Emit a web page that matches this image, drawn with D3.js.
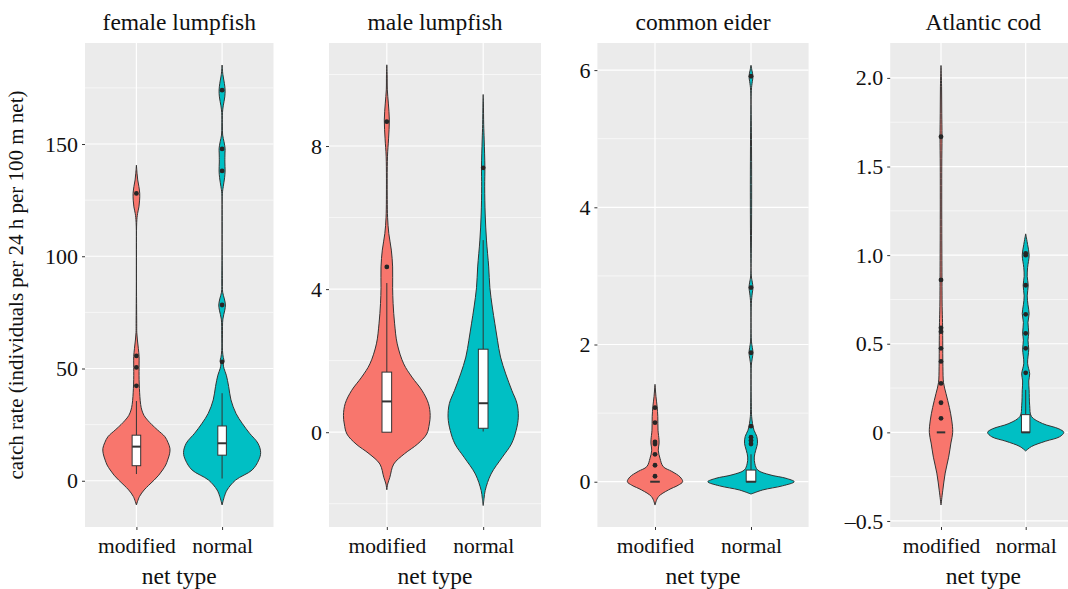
<!DOCTYPE html>
<html><head><meta charset="utf-8">
<script src="https://cdn.jsdelivr.net/npm/d3@7"></script>
<style>
body{margin:0;background:#fff;}
text{font-family:"Liberation Serif","Times New Roman",serif;}
</style></head>
<body><svg id="chart" width="1068" height="589"></svg>
<script>
// ---------------- DATA ----------------
const categories = ["modified", "normal"];
const panelTitles = ["female lumpfish", "male lumpfish", "common eider", "Atlantic cod"];
const xAxisTitle = "net type";
const yAxisTitle = "catch rate (individuals per 24 h per 100 m net)";

// y ticks per panel
const femaleTicks = [0, 50, 100, 150];
const femaleTickLabels = ["0", "50", "100", "150"];
const femaleMinor = [25, 75, 125, 175];
const maleTicks = [0, 4, 8];
const maleTickLabels = ["0", "4", "8"];
const maleMinor = [-2, 2, 6, 10];
const eiderTicks = [0, 2, 4, 6];
const eiderTickLabels = ["0", "2", "4", "6"];
const eiderMinor = [1, 3, 5];
const codTicks = [-0.5, 0, 0.5, 1, 1.5, 2];
const codTickLabels = ["\u20130.5", "0", "0.5", "1.0", "1.5", "2.0"];
const codMinor = [-0.25, 0.25, 0.75, 1.25, 1.75];

// y domains (value range incl. expansion)
const femaleDomain = [-20.6, 195];
const maleDomain = [-2.65, 10.88];
const eiderDomain = [-0.66, 6.395];
const codDomain = [-0.534, 2.197];

// violin outlines: [catch rate, relative density width (0-100)]
const femaleModViolin = [[-10.8,0],[-7,8],[-4.1,20],[-2,32],[0.3,46],[2.5,58],[4.8,68],[7,76],[9.2,81],[12,86],[14.4,87],[17,82],[19.6,74],[22.6,55],[25,40],[27,29],[29,20],[31.5,14],[34,11],[37.5,9],[45,7],[52,7],[55.3,7],[59,5],[62.7,2.6],[66,1],[70,0.8],[115,0.8],[119,3],[122,6.5],[125,8.3],[128,8.6],[131,6.5],[134,3.4],[137,1.6],[140.6,0]];
const femaleNorViolin = [[-10.8,0],[-7,6],[-4.1,13],[0.3,35],[4.8,78],[9.2,95],[12.6,100],[16.7,93],[21.2,71],[25.6,52],[30,36],[36,23],[42,17],[47,11],[50,5],[52,3],[53.5,5],[55,3],[58,1],[65,1],[72,2],[76,7],[78.3,8.6],[81,6],[84,1.5],[90,0.8],[128,0.8],[131,3],[135,6.5],[138,7.8],[142,7.2],[146,7.5],[148,7.8],[151,5],[154,1.5],[158,0.8],[164,1],[167,3],[171,7],[174,7.8],[177,6],[181,2],[185.2,0]];
const maleModViolin = [[-1.61,0],[-1.45,2],[-1.26,7],[-0.89,16],[-0.6,41],[-0.33,71],[-0.05,92],[0.23,98],[0.47,100],[0.8,96],[1.17,81],[1.54,58],[1.91,39],[2.47,24],[3.03,18],[3.6,14.5],[4.04,13.4],[4.62,13.4],[5.09,10.4],[5.55,4.6],[6.0,1.8],[6.5,1],[7.7,1.5],[8.2,4],[8.73,5.8],[9.2,3.5],[9.57,1.2],[10,0.8],[10.27,0]];
const maleNorViolin = [[-2.05,0],[-1.85,2],[-1.63,4.6],[-1.17,18],[-0.7,44],[-0.33,65],[0.05,76],[0.42,81],[0.8,78],[1.17,66],[1.63,52],[2.1,40],[2.57,33],[3.03,27],[3.5,21],[4.04,15.4],[4.62,12.7],[5.37,7.6],[6.1,4.6],[6.86,3.5],[7.42,3.9],[8.17,2.3],[8.6,1.2],[9.2,0.5],[9.44,0]];
const eiderModViolin = [[-0.34,0],[-0.22,7.7],[-0.12,31],[-0.05,54],[0,64],[0.07,58],[0.15,39],[0.22,19],[0.34,11.6],[0.46,7.6],[0.55,9.3],[0.61,9.3],[0.75,7],[0.95,6.5],[1.09,5],[1.24,2.3],[1.42,0]];
const eiderNorViolin = [[-0.18,0],[-0.12,27],[-0.06,73],[0,100],[0.05,81],[0.1,44],[0.17,15.5],[0.26,9],[0.36,7.6],[0.46,11],[0.56,15],[0.66,13.4],[0.75,7],[0.85,3.5],[0.95,1.5],[1.1,0.8],[1.7,0.8],[1.8,3],[1.88,4.6],[1.96,3],[2.05,1],[2.6,0.8],[2.75,3],[2.83,4.6],[2.91,3],[3.0,0.8],[5.7,0.8],[5.83,3],[5.91,4.6],[6.0,2],[6.07,0]];
const codModViolin = [[-0.41,0],[-0.33,4.5],[-0.23,11],[-0.14,20],[-0.06,26],[0,30.7],[0.07,28],[0.14,22],[0.22,13],[0.28,6.6],[0.37,5],[0.52,4.5],[0.62,4],[0.71,3],[0.9,2.5],[1.2,2],[1.5,2],[1.67,2.6],[1.8,2],[1.95,1.5],[2.07,0]];
const codNorViolin = [[-0.105,0],[-0.08,15],[-0.05,52],[-0.025,89],[0,100],[0.02,87],[0.05,44],[0.09,15],[0.15,10.5],[0.24,9],[0.29,8],[0.33,10.5],[0.39,5],[0.47,8],[0.52,6],[0.56,8],[0.62,6],[0.67,9],[0.72,6],[0.77,4],[0.83,6.6],[0.88,4],[0.93,5],[1.0,9],[1.06,5],[1.12,0]];

// box stats: [lower whisker, q1, median, q3, upper whisker]
const femaleModBox = [3, 6.7, 15.2, 20.3, 35.5];
const femaleNorBox = [1, 11.4, 16.7, 24.4, 39];
const maleModBox = [0, 0, 0.86, 1.68, 4.17];
const maleNorBox = [0.02, 0.11, 0.81, 2.32, 5.37];
const eiderModBox = [0, 0, 0, 0, 0];
const eiderNorBox = [0, 0, 0, 0.17, 0.4];
const codModBox = [0, 0, 0, 0, 0];
const codNorBox = [0, 0, 0, 0.1, 0.24];

// outliers
const femaleModOut = [42.3, 50.5, 55.6, 128];
const femaleNorOut = [53, 78.3, 138, 147.8, 174];
const maleModOut = [4.62, 8.68];
const maleNorOut = [7.39];
const eiderModOut = [0.08, 0.24, 0.4, 0.55, 0.58, 0.86, 1.08];
const eiderNorOut = [0.55, 0.6, 0.65, 0.81, 1.88, 2.83, 5.91];
const codModOut = [0.079, 0.167, 0.276, 0.4, 0.474, 0.568, 0.59, 0.86, 1.668];
const codNorOut = [0.336, 0.474, 0.559, 0.666, 0.83, 1.0, 1.01];

// ---------------- LAYOUT ----------------
const colors = {modified: "#F8766D", normal: "#00BFC4"};
const plotTop = 43, plotBottom = 527;
const panels = [
  {title: panelTitles[0], x0: 85, x1: 273.5, domain: femaleDomain, ticks: femaleTicks, labels: femaleTickLabels, minor: femaleMinor,
   violins: [femaleModViolin, femaleNorViolin], boxes: [femaleModBox, femaleNorBox], outs: [femaleModOut, femaleNorOut]},
  {title: panelTitles[1], x0: 329, x1: 541, domain: maleDomain, ticks: maleTicks, labels: maleTickLabels, minor: maleMinor,
   violins: [maleModViolin, maleNorViolin], boxes: [maleModBox, maleNorBox], outs: [maleModOut, maleNorOut]},
  {title: panelTitles[2], x0: 597.4, x1: 808.6, domain: eiderDomain, ticks: eiderTicks, labels: eiderTickLabels, minor: eiderMinor,
   violins: [eiderModViolin, eiderNorViolin], boxes: [eiderModBox, eiderNorBox], outs: [eiderModOut, eiderNorOut]},
  {title: panelTitles[3], x0: 890.2, x1: 1076.5, domain: codDomain, ticks: codTicks, labels: codTickLabels, minor: codMinor,
   violins: [codModViolin, codNorViolin], boxes: [codModBox, codNorBox], outs: [codModOut, codNorOut]}
];

const svg = d3.select("#chart");
const ink = "#333333";

panels.forEach(p => {
  const g = svg.append("g");
  const x = d3.scalePoint().domain(categories).range([p.x0, p.x1]).padding(0.6);
  const y = d3.scaleLinear().domain(p.domain).range([plotBottom, plotTop]);
  const step = x.step();
  const w = d3.scaleLinear().domain([0, 100]).range([0, 0.45 * step]);

  g.append("rect").attr("x", p.x0).attr("y", plotTop).attr("width", p.x1 - p.x0).attr("height", plotBottom - plotTop).attr("fill", "#EBEBEB");
  g.selectAll(".minor").data(p.minor).join("line")
    .attr("x1", p.x0).attr("x2", p.x1).attr("y1", d => y(d)).attr("y2", d => y(d))
    .attr("stroke", "#fff").attr("stroke-width", 0.6);
  g.selectAll(".major").data(p.ticks).join("line")
    .attr("x1", p.x0).attr("x2", p.x1).attr("y1", d => y(d)).attr("y2", d => y(d))
    .attr("stroke", "#fff").attr("stroke-width", 1.2);
  g.selectAll(".vgrid").data(categories).join("line")
    .attr("x1", d => x(d)).attr("x2", d => x(d)).attr("y1", plotTop).attr("y2", plotBottom)
    .attr("stroke", "#fff").attr("stroke-width", 1.2);

  const yAxis = d3.axisLeft(y).tickValues(p.ticks).tickFormat((d, i) => p.labels[i]).tickSize(3).tickPadding(4);
  const ya = g.append("g").attr("transform", `translate(${p.x0},0)`).call(yAxis);
  ya.select(".domain").remove();
  ya.selectAll(".tick line").attr("stroke", ink).attr("stroke-width", 1);
  ya.selectAll(".tick text").attr("font-size", 22).attr("fill", "#111").attr("font-family", "Liberation Serif");

  const xAxis = d3.axisBottom(x).tickSize(3).tickPadding(8);
  const xa = g.append("g").attr("transform", `translate(0,${plotBottom})`).call(xAxis);
  xa.select(".domain").remove();
  xa.selectAll(".tick line").attr("stroke", ink).attr("stroke-width", 1);
  xa.selectAll(".tick text").attr("font-size", 21.5).attr("fill", "#111").attr("font-family", "Liberation Serif");

  const cx = (x(categories[0]) + x(categories[1])) / 2;
  g.append("text").attr("x", cx).attr("y", 30).attr("text-anchor", "middle").attr("font-size", 23.5).attr("fill", "#111").text(p.title);
  g.append("text").attr("x", cx).attr("y", 584).attr("text-anchor", "middle").attr("font-size", 23.5).attr("fill", "#111").text(xAxisTitle);

  const area = d3.area()
    .x0(d => 0 - w(d[1])).x1(d => w(d[1])).y(d => y(d[0]))
    .curve(d3.curveCatmullRom);

  categories.forEach((c, i) => {
    const cxp = x(c);
    const vg = g.append("g").attr("transform", `translate(${cxp},0)`);
    vg.append("path").datum(p.violins[i]).attr("d", area)
      .attr("fill", colors[c]).attr("stroke", ink).attr("stroke-width", 1);
    const b = p.boxes[i];
    const bw = 0.1 * step;
    vg.append("line").attr("x1", 0).attr("x2", 0).attr("y1", y(b[3])).attr("y2", y(b[4])).attr("stroke", ink).attr("stroke-width", 1);
    vg.append("line").attr("x1", 0).attr("x2", 0).attr("y1", y(b[0])).attr("y2", y(b[1])).attr("stroke", ink).attr("stroke-width", 1);
    vg.append("rect").attr("x", -bw / 2).attr("width", bw).attr("y", y(b[3])).attr("height", Math.max(0, y(b[1]) - y(b[3])))
      .attr("fill", "#fff").attr("stroke", ink).attr("stroke-width", 1);
    vg.append("line").attr("x1", -bw / 2).attr("x2", bw / 2).attr("y1", y(b[2])).attr("y2", y(b[2])).attr("stroke", ink).attr("stroke-width", 2);
    vg.selectAll("circle").data(p.outs[i]).join("circle")
      .attr("cx", 0).attr("cy", d => y(d)).attr("r", 2.4).attr("fill", "#262626");
  });
});

svg.append("text").attr("transform", "translate(23,285) rotate(-90)").attr("text-anchor", "middle")
  .attr("font-size", 21).attr("fill", "#111").text(yAxisTitle);
</script>
</body></html>
